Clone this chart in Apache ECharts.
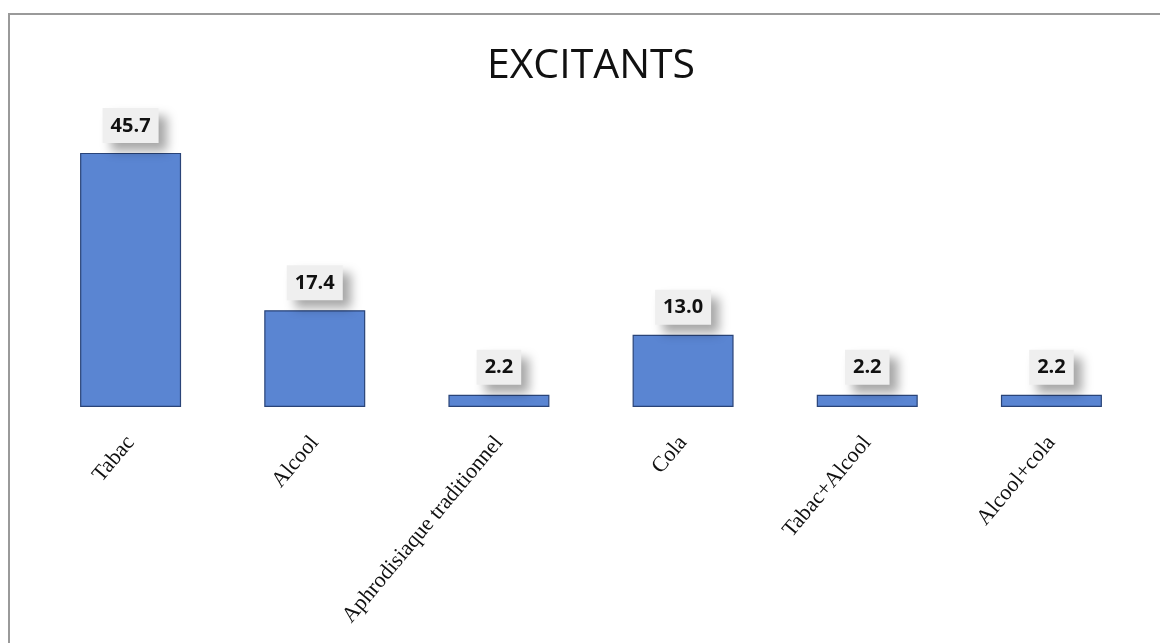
<!DOCTYPE html>
<html><head><meta charset="utf-8">
<script src="https://cdn.jsdelivr.net/npm/echarts@6/dist/echarts.min.js"></script>
<style>html,body{margin:0;padding:0;background:#fff}#c{width:1160px;height:643px}</style>
</head><body><div id="c"></div>
<script>
const categories = ['Tabac','Alcool','Aphrodisiaque traditionnel','Cola','Tabac+Alcool','Alcool+cola'];
const values = [45.7, 17.4, 2.2, 13.0, 2.2, 2.2];
const titleText = 'EXCITANTS';

const chart = echarts.init(document.getElementById('c'));
chart.setOption({
  backgroundColor: '#ffffff',
  animation: false,
  title: {
    text: titleText, left: 586, top: 41, textAlign: 'center',
    textStyle: {fontFamily: 'Open Sans', fontWeight: 'normal', fontSize: 41, color: '#111'}
  },
  graphic: [{
    type: 'rect', shape: {x: 9, y: 14, width: 1170, height: 650},
    style: {fill: 'none', stroke: '#9a9a9a', lineWidth: 2}, silent: true
  }],
  grid: {left: 38.5, right: 16.5, top: 129, bottom: 236},
  xAxis: {
    type: 'category', data: categories,
    axisLine: {show: false}, axisTick: {show: false},
    axisLabel: {
      rotate: 50, interval: 0, margin: 32,
      fontFamily: 'Liberation Serif', fontSize: 22, color: '#111'
    }
  },
  yAxis: {type: 'value', min: 0, max: 50, show: false, splitLine: {show: false}},
  series: [{
    type: 'bar', data: values, barWidth: 101,
    itemStyle: {color: '#5a85d2', borderColor: '#2a4478', borderWidth: 1.2},
    label: {
      show: true, position: 'top', distance: 10,
      formatter: p => p.value.toFixed(1),
      fontFamily: 'Open Sans', fontWeight: 'bold', fontSize: 20, color: '#111',
      backgroundColor: '#efefef', padding: [8, 8, 7, 8],
      shadowColor: 'rgba(0,0,0,0.35)', shadowBlur: 10, shadowOffsetX: 8, shadowOffsetY: 8
    }
  }]
});
</script></body></html>
